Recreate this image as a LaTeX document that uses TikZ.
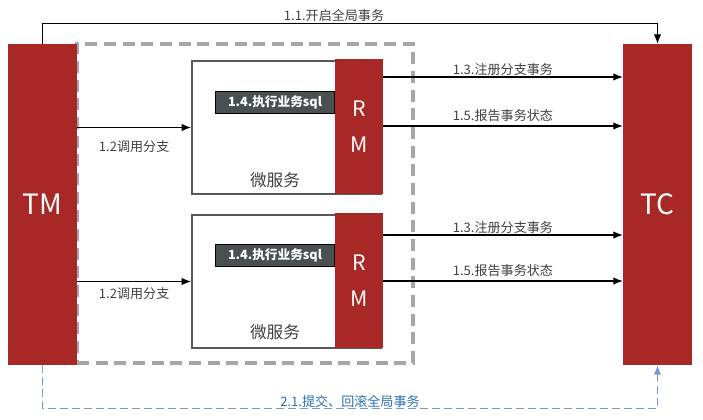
\documentclass[tikz,border=0pt]{standalone}
\usepackage{fontspec}
\setmainfont{Noto Sans CJK SC}
\usetikzlibrary{positioning,arrows.meta}

\definecolor{tmred}{RGB}{168,40,38}
\definecolor{areagray}{RGB}{166,166,166}
\definecolor{boxgray}{RGB}{89,89,89}
\definecolor{sqlfill}{RGB}{74,80,82}
\definecolor{txtgray}{RGB}{64,64,64}
\definecolor{backline}{RGB}{120,155,205}
\definecolor{backtext}{RGB}{40,110,180}

\begin{document}
\begin{tikzpicture}[
  x=0.75pt, y=-0.75pt,
  role/.style={rectangle, fill=tmred, text=white, inner sep=0pt,
               minimum width=51.75pt, minimum height=240.75pt, font=\fontsize{21}{23}\selectfont},
  area/.style={rectangle, draw=areagray, line width=3pt, dash pattern=on 9pt off 5pt,
               minimum width=252pt, minimum height=239.25pt},
  svc/.style={rectangle, draw=boxgray, line width=1.5pt, fill=white,
              minimum width=141.75pt, minimum height=99.75pt},
  rm/.style={rectangle, fill=tmred, text=white, align=center, inner sep=0pt,
             minimum width=35.75pt, minimum height=101.25pt, font=\fontsize{16}{27}\selectfont},
  sql/.style={rectangle, draw=black, line width=0.6pt, fill=sqlfill, text=white, inner sep=0pt,
              minimum width=89.25pt, minimum height=16.5pt, font=\bfseries\fontsize{9.5}{11}\selectfont},
  svcname/.style={text=txtgray, font=\fontsize{12.5}{14}\selectfont},
  lbl/.style={text=txtgray, inner sep=1pt, font=\fontsize{9.8}{11}\selectfont},
  arr/.style={->, line width=0.8pt, >={Latex[length=7pt,width=5.5pt]}},
  back/.style={->, draw=backline, line width=0.8pt, dash pattern=on 6pt off 3pt,
               >={Latex[length=7pt,width=5.5pt]}},
]
  \useasboundingbox (0,0) rectangle (703,420);

  % dashed service area (left side hidden by TM)
  \node[area] (zone) at (245,203.5) {};

  % TM and TC
  \node[role] (tm) at (42.5,204.5) {TM};
  \node[role] (tc) at (657.5,204.5) {TC};

  % Microservice 1
  \node[svc] (ms1) at (286.5,127.5) {};
  \node[rm, anchor=north east] (rm1) at ([shift={(1,-1)}]ms1.north east) {R\\M};
  \node[sql] (sql1) at (275,102) {1.4.执行业务sql};
  \node[svcname] (ms1t) at (275,180) {微服务};

  % Microservice 2
  \node[svc, below=14.25pt of ms1] (ms2) {};
  \node[rm, anchor=north east] (rm2) at ([shift={(1,-1)}]ms2.north east) {R\\M};
  \node[sql] (sql2) at (275,255) {1.4.执行业务sql};
  \node[svcname] (ms2t) at (275,332) {微服务};

  \coordinate (r1a) at ([shift={(0,18)}]rm1.north east);
  \coordinate (r1b) at ([shift={(0,67)}]rm1.north east);
  \coordinate (r2a) at ([shift={(0,22)}]rm2.north east);
  \coordinate (r2b) at ([shift={(0,68)}]rm2.north east);

  % Arrows
  \draw[arr] (tm.north) -- ++(0,-20) -| (tc.north)
    node[lbl, above, pos=0.25, xshift=-12pt] {1.1.开启全局事务};
  \draw[arr] (tm.east |- ms1.west) -- (ms1.west)
    node[lbl, below=8pt, midway] {1.2调用分支};
  \draw[arr] (tm.east |- ms2.west) -- (ms2.west)
    node[lbl, below=3pt, midway] {1.2调用分支};
  \draw[arr] (r1a) -- (r1a -| tc.west) node[lbl, above, midway] {1.3.注册分支事务};
  \draw[arr] (r1b) -- (r1b -| tc.west) node[lbl, above=2pt, midway] {1.5.报告事务状态};
  \draw[arr] (r2a) -- (r2a -| tc.west) node[lbl, above, midway] {1.3.注册分支事务};
  \draw[arr] (r2b) -- (r2b -| tc.west) node[lbl, above=2pt, midway] {1.5.报告事务状态};
  \draw[back] (tm.south) -- ++(0,43) -| (tc.south)
    node[lbl, text=backtext, anchor=base, pos=0.25, yshift=1pt] {2.1.提交、回滚全局事务};
\end{tikzpicture}
\end{document}
